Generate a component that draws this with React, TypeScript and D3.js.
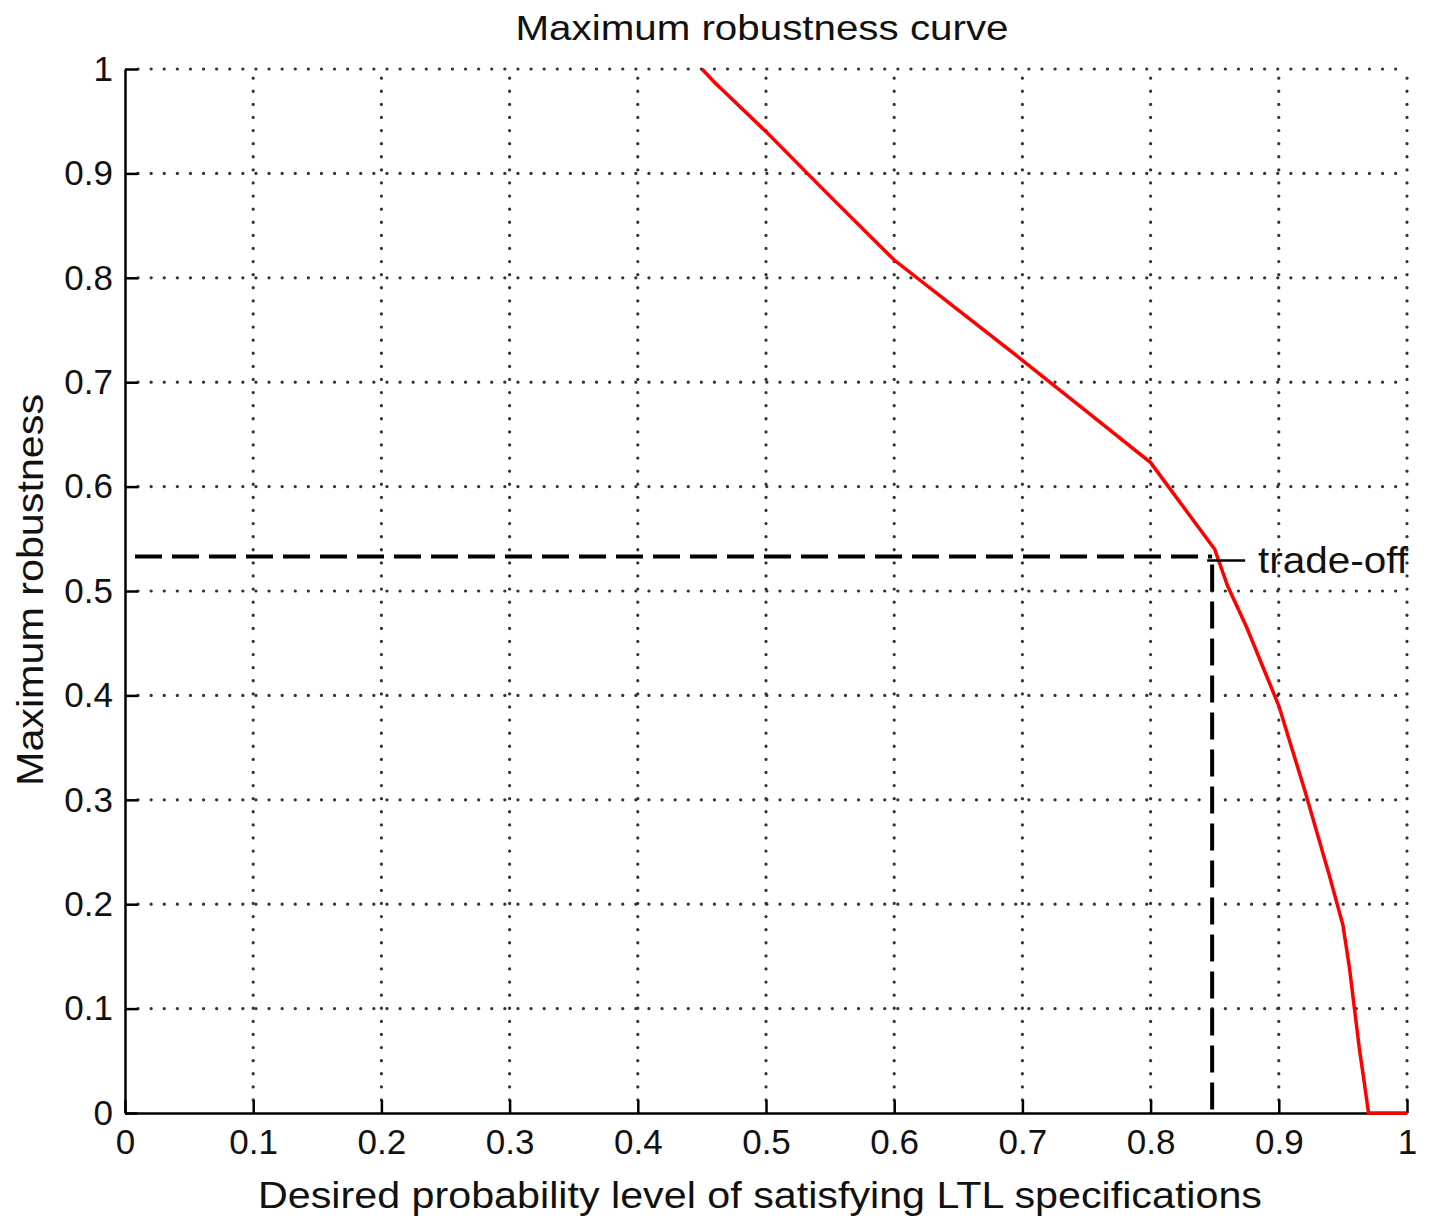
import * as d3 from 'd3';
import React, { useEffect, useRef } from 'react';

// axis ticks
const xTicks = [0, 0.1, 0.2, 0.3, 0.4, 0.5, 0.6, 0.7, 0.8, 0.9, 1];
const yTicks = [0, 0.1, 0.2, 0.3, 0.4, 0.5, 0.6, 0.7, 0.8, 0.9, 1];

// maximum robustness curve
const probLevel = [0.45, 0.46, 0.5, 0.55, 0.6, 0.65, 0.7, 0.75, 0.8, 0.85, 0.86, 0.875, 0.89, 0.9, 0.92, 0.94, 0.95, 0.955, 0.96, 0.963, 0.966, 0.97, 1.0];
const robustness = [1.0, 0.987, 0.94, 0.878, 0.817, 0.769, 0.721, 0.672, 0.623, 0.54, 0.505, 0.465, 0.42, 0.39, 0.31, 0.225, 0.18, 0.14, 0.09, 0.06, 0.035, 0.0, 0.0];

// trade-off point
const tradeOff = { p: 0.848, r: 0.533, label: 'trade-off' };

const W = 1429;
const H = 1220;
const FONT = '"Liberation Sans", Arial, sans-serif';

const App = () => {
  const ref = useRef(null);

  useEffect(() => {
    const svg = d3.select(ref.current);
    svg.selectAll('*').remove();

    const x = d3.scaleLinear().domain([0, 1]).range([125, 1407]);
    const y = d3.scaleLinear().domain([0, 1]).range([1113, 69]);

    const grid = svg.append('g')
      .attr('stroke', '#333')
      .attr('stroke-width', 3.2)
      .attr('stroke-linecap', 'round')
      .attr('stroke-dasharray', '0.1,13');

    grid.selectAll('.gx')
      .data(xTicks.slice(1))
      .enter()
      .append('line')
      .attr('x1', d => x(d))
      .attr('x2', d => x(d))
      .attr('y1', y(0) - 13)
      .attr('y2', y(1));

    grid.selectAll('.gy')
      .data(yTicks.slice(1))
      .enter()
      .append('line')
      .attr('x1', x(0) + 13)
      .attr('x2', x(1))
      .attr('y1', d => y(d))
      .attr('y2', d => y(d));

    // axes, MATLAB-style inward ticks
    const xAxis = d3.axisBottom(x).tickValues(xTicks).tickSizeInner(-13).tickSizeOuter(0)
      .tickFormat(d => d3.format('')(d));
    const yAxis = d3.axisLeft(y).tickValues(yTicks).tickSizeInner(-13).tickSizeOuter(0)
      .tickFormat(d => d3.format('')(d));

    const gx = svg.append('g')
      .attr('transform', `translate(0,${y(0)})`)
      .call(xAxis);
    const gy = svg.append('g')
      .attr('transform', `translate(${x(0)},0)`)
      .call(yAxis);

    [gx, gy].forEach(g => {
      g.select('.domain').attr('stroke', '#000').attr('stroke-width', 2.5);
      g.selectAll('.tick line').attr('stroke', '#000').attr('stroke-width', 2.5);
      g.selectAll('.tick text')
        .attr('fill', '#111')
        .style('font-family', FONT)
        .style('font-size', '35px');
    });
    gx.selectAll('.tick text').attr('dy', '0.71em').attr('y', 16);
    gy.selectAll('.tick text').attr('x', -12);

    // dashed guide lines
    const guide = svg.append('g')
      .attr('stroke', '#000')
      .attr('stroke-width', 4)
      .attr('stroke-dasharray', '27,10')
      .attr('fill', 'none');
    guide.append('line')
      .attr('x1', x(0) + 10).attr('x2', x(tradeOff.p))
      .attr('y1', y(tradeOff.r)).attr('y2', y(tradeOff.r));
    guide.append('line')
      .attr('x1', x(tradeOff.p)).attr('x2', x(tradeOff.p))
      .attr('y1', y(tradeOff.r) + 8).attr('y2', y(0));

    // curve
    const line = d3.line()
      .x((d, i) => x(probLevel[i]))
      .y(d => y(d));
    svg.append('path')
      .datum(robustness)
      .attr('d', line)
      .attr('fill', 'none')
      .attr('stroke', '#f00')
      .attr('stroke-width', 3.5);

    // annotation
    svg.append('line')
      .attr('x1', x(tradeOff.p) - 5)
      .attr('x2', x(tradeOff.p) + 33)
      .attr('y1', y(tradeOff.r) + 4)
      .attr('y2', y(tradeOff.r) + 4)
      .attr('stroke', '#000')
      .attr('stroke-width', 2.5);
    svg.append('text')
      .attr('x', x(tradeOff.p) + 46)
      .attr('y', y(tradeOff.r) + 16)
      .attr('textLength', 150)
      .attr('lengthAdjust', 'spacingAndGlyphs')
      .style('font-family', FONT)
      .style('font-size', '36px')
      .attr('fill', '#111')
      .text(tradeOff.label);

    // title and axis labels
    svg.append('text')
      .attr('x', 762)
      .attr('y', 40)
      .attr('text-anchor', 'middle')
      .attr('textLength', 493)
      .attr('lengthAdjust', 'spacingAndGlyphs')
      .style('font-family', FONT)
      .style('font-size', '35px')
      .attr('fill', '#111')
      .text('Maximum robustness curve');

    svg.append('text')
      .attr('x', 760)
      .attr('y', 1208)
      .attr('text-anchor', 'middle')
      .attr('textLength', 1004)
      .attr('lengthAdjust', 'spacingAndGlyphs')
      .style('font-family', FONT)
      .style('font-size', '37px')
      .attr('fill', '#111')
      .text('Desired probability level of satisfying LTL specifications');

    svg.append('text')
      .attr('transform', 'translate(43,590) rotate(-90)')
      .attr('text-anchor', 'middle')
      .attr('textLength', 392)
      .attr('lengthAdjust', 'spacingAndGlyphs')
      .style('font-family', FONT)
      .style('font-size', '37px')
      .attr('fill', '#111')
      .text('Maximum robustness');
  }, []);

  return (
    <svg ref={ref} width={W} height={H}
      style={{ position: 'absolute', left: 0, top: 0, background: '#fff' }} />
  );
};

export default App;
